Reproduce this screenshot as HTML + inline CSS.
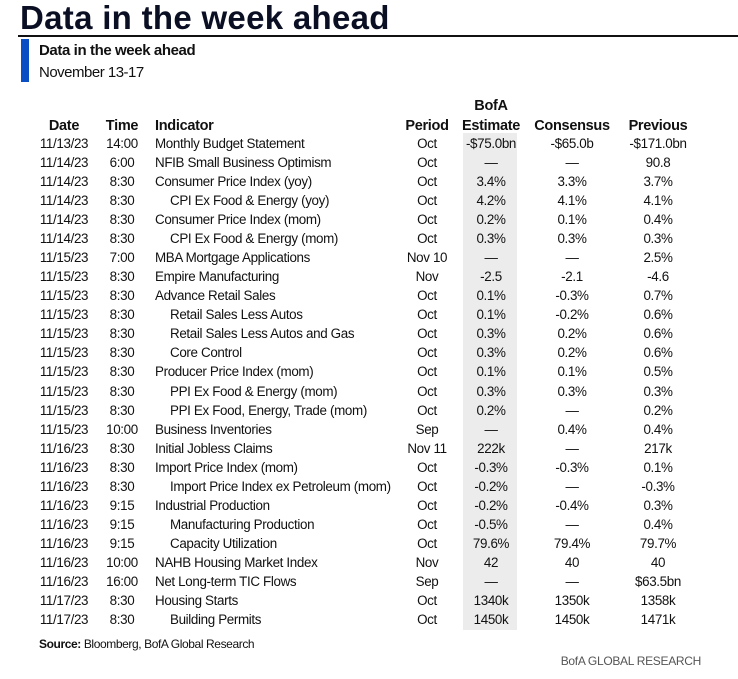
<!DOCTYPE html>
<html><head><meta charset="utf-8"><style>
body{margin:0;width:738px;height:679px;background:#fff;position:relative;overflow:hidden;font-family:"Liberation Sans",sans-serif;color:#111}
.t{position:absolute;left:20px;top:-1px;font-size:33px;line-height:38px;font-weight:bold;color:#0a0f24;letter-spacing:0.3px}
.line{position:absolute;left:18px;top:35px;width:720px;height:2px;background:#111}
.bar{position:absolute;left:21px;top:39px;width:8px;height:43px;background:#0b4fc4}
.st{position:absolute;left:39px;top:42px;font-size:15px;font-weight:bold;letter-spacing:-0.4px}
.sd{position:absolute;left:39px;top:64px;font-size:15px;letter-spacing:-0.5px}
.gray{position:absolute;left:463px;top:133px;width:54px;height:497px;background:#ececec}
.g{position:absolute;left:36px;display:grid;grid-template-columns:56px 60px 244px 62px 66px 96px 76px;letter-spacing:-0.35px}
.h{top:96px;grid-auto-rows:20px;font-size:14.5px;font-weight:bold;letter-spacing:-0.3px}
.d{top:133.5px;grid-auto-rows:19.08px;font-size:13.4px}
.g div{text-align:center;white-space:nowrap;line-height:19.08px}
.h div{line-height:20px}
.g div.i{text-align:left;padding-left:3px}
.g div.s{padding-left:18px}
.src{position:absolute;left:39px;top:637px;font-size:12px;letter-spacing:-0.4px}
.brand{position:absolute;right:37px;top:654px;font-size:12px;color:#555;letter-spacing:-0.3px}
</style></head><body>
<div class="t">Data in the week ahead</div>
<div class="line"></div>
<div class="bar"></div>
<div class="st">Data in the week ahead</div>
<div class="sd">November 13-17</div>
<div class="gray"></div>
<div class="g h">
<div></div><div></div><div></div><div></div><div>BofA</div><div></div><div></div>
<div>Date</div><div>Time</div><div class="i">Indicator</div><div>Period</div><div>Estimate</div><div>Consensus</div><div>Previous</div>
</div>
<div class="g d">
<div>11/13/23</div><div>14:00</div><div class="i">Monthly Budget Statement</div><div>Oct</div><div>-$75.0bn</div><div>-$65.0b</div><div>-$171.0bn</div>
<div>11/14/23</div><div>6:00</div><div class="i">NFIB Small Business Optimism</div><div>Oct</div><div>—</div><div>—</div><div>90.8</div>
<div>11/14/23</div><div>8:30</div><div class="i">Consumer Price Index (yoy)</div><div>Oct</div><div>3.4%</div><div>3.3%</div><div>3.7%</div>
<div>11/14/23</div><div>8:30</div><div class="i s">CPI Ex Food &amp; Energy (yoy)</div><div>Oct</div><div>4.2%</div><div>4.1%</div><div>4.1%</div>
<div>11/14/23</div><div>8:30</div><div class="i">Consumer Price Index (mom)</div><div>Oct</div><div>0.2%</div><div>0.1%</div><div>0.4%</div>
<div>11/14/23</div><div>8:30</div><div class="i s">CPI Ex Food &amp; Energy (mom)</div><div>Oct</div><div>0.3%</div><div>0.3%</div><div>0.3%</div>
<div>11/15/23</div><div>7:00</div><div class="i">MBA Mortgage Applications</div><div>Nov 10</div><div>—</div><div>—</div><div>2.5%</div>
<div>11/15/23</div><div>8:30</div><div class="i">Empire Manufacturing</div><div>Nov</div><div>-2.5</div><div>-2.1</div><div>-4.6</div>
<div>11/15/23</div><div>8:30</div><div class="i">Advance Retail Sales</div><div>Oct</div><div>0.1%</div><div>-0.3%</div><div>0.7%</div>
<div>11/15/23</div><div>8:30</div><div class="i s">Retail Sales Less Autos</div><div>Oct</div><div>0.1%</div><div>-0.2%</div><div>0.6%</div>
<div>11/15/23</div><div>8:30</div><div class="i s">Retail Sales Less Autos and Gas</div><div>Oct</div><div>0.3%</div><div>0.2%</div><div>0.6%</div>
<div>11/15/23</div><div>8:30</div><div class="i s">Core Control</div><div>Oct</div><div>0.3%</div><div>0.2%</div><div>0.6%</div>
<div>11/15/23</div><div>8:30</div><div class="i">Producer Price Index (mom)</div><div>Oct</div><div>0.1%</div><div>0.1%</div><div>0.5%</div>
<div>11/15/23</div><div>8:30</div><div class="i s">PPI Ex Food &amp; Energy (mom)</div><div>Oct</div><div>0.3%</div><div>0.3%</div><div>0.3%</div>
<div>11/15/23</div><div>8:30</div><div class="i s">PPI Ex Food, Energy, Trade (mom)</div><div>Oct</div><div>0.2%</div><div>—</div><div>0.2%</div>
<div>11/15/23</div><div>10:00</div><div class="i">Business Inventories</div><div>Sep</div><div>—</div><div>0.4%</div><div>0.4%</div>
<div>11/16/23</div><div>8:30</div><div class="i">Initial Jobless Claims</div><div>Nov 11</div><div>222k</div><div>—</div><div>217k</div>
<div>11/16/23</div><div>8:30</div><div class="i">Import Price Index (mom)</div><div>Oct</div><div>-0.3%</div><div>-0.3%</div><div>0.1%</div>
<div>11/16/23</div><div>8:30</div><div class="i s">Import Price Index ex Petroleum (mom)</div><div>Oct</div><div>-0.2%</div><div>—</div><div>-0.3%</div>
<div>11/16/23</div><div>9:15</div><div class="i">Industrial Production</div><div>Oct</div><div>-0.2%</div><div>-0.4%</div><div>0.3%</div>
<div>11/16/23</div><div>9:15</div><div class="i s">Manufacturing Production</div><div>Oct</div><div>-0.5%</div><div>—</div><div>0.4%</div>
<div>11/16/23</div><div>9:15</div><div class="i s">Capacity Utilization</div><div>Oct</div><div>79.6%</div><div>79.4%</div><div>79.7%</div>
<div>11/16/23</div><div>10:00</div><div class="i">NAHB Housing Market Index</div><div>Nov</div><div>42</div><div>40</div><div>40</div>
<div>11/16/23</div><div>16:00</div><div class="i">Net Long-term TIC Flows</div><div>Sep</div><div>—</div><div>—</div><div>$63.5bn</div>
<div>11/17/23</div><div>8:30</div><div class="i">Housing Starts</div><div>Oct</div><div>1340k</div><div>1350k</div><div>1358k</div>
<div>11/17/23</div><div>8:30</div><div class="i s">Building Permits</div><div>Oct</div><div>1450k</div><div>1450k</div><div>1471k</div>
</div>
<div class="src"><b>Source:</b> Bloomberg, BofA Global Research</div>
<div class="brand">BofA GLOBAL RESEARCH</div>
</body></html>
